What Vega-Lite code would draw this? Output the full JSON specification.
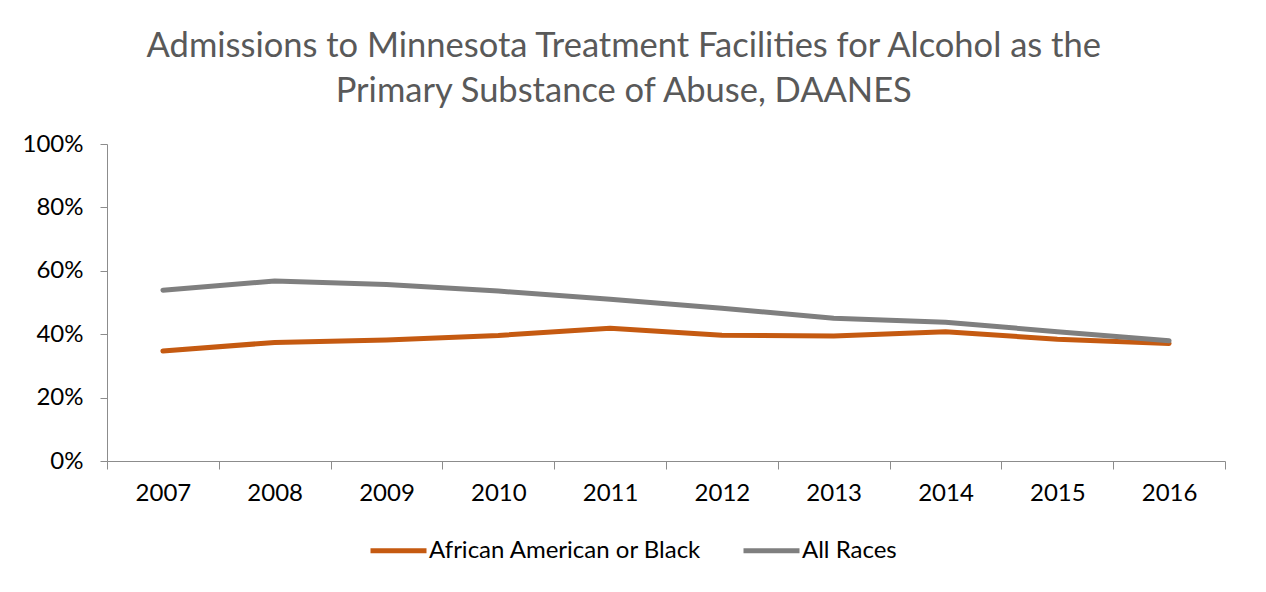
{
  "$schema": "https://vega.github.io/schema/vega-lite/v6.json",
  "autosize": "none",
  "width": 1118,
  "height": 317,
  "padding": {"left": 107, "top": 144, "right": 41, "bottom": 131},
  "background": "white",
  "title": {
    "text": ["Admissions to Minnesota Treatment Facilities for Alcohol as the", "Primary Substance of Abuse, DAANES"],
    "anchor": "middle",
    "frame": "bounds",
    "font": "Lato",
    "fontSize": 34.5,
    "fontWeight": "normal",
    "color": "#595959",
    "lineHeight": 45,
    "offset": 23
  },
  "config": {
    "view": {"stroke": null},
    "font": "Lato"
  },
  "data": {
    "values": [
      {"year": "2007", "series": "African American or Black", "value": 0.347},
      {"year": "2008", "series": "African American or Black", "value": 0.374},
      {"year": "2009", "series": "African American or Black", "value": 0.382},
      {"year": "2010", "series": "African American or Black", "value": 0.396},
      {"year": "2011", "series": "African American or Black", "value": 0.419},
      {"year": "2012", "series": "African American or Black", "value": 0.397},
      {"year": "2013", "series": "African American or Black", "value": 0.394},
      {"year": "2014", "series": "African American or Black", "value": 0.408},
      {"year": "2015", "series": "African American or Black", "value": 0.384},
      {"year": "2016", "series": "African American or Black", "value": 0.371},
      {"year": "2007", "series": "All Races", "value": 0.539},
      {"year": "2008", "series": "All Races", "value": 0.568},
      {"year": "2009", "series": "All Races", "value": 0.557},
      {"year": "2010", "series": "All Races", "value": 0.536},
      {"year": "2011", "series": "All Races", "value": 0.510},
      {"year": "2012", "series": "All Races", "value": 0.482},
      {"year": "2013", "series": "All Races", "value": 0.450},
      {"year": "2014", "series": "All Races", "value": 0.438},
      {"year": "2015", "series": "All Races", "value": 0.408},
      {"year": "2016", "series": "All Races", "value": 0.379}
    ]
  },
  "mark": {"type": "line", "strokeWidth": 5, "strokeCap": "round", "strokeJoin": "round"},
  "encoding": {
    "x": {
      "field": "year",
      "type": "ordinal",
      "scale": {"type": "band", "paddingInner": 0, "paddingOuter": 0},
      "axis": {
        "title": null,
        "labelAngle": 0,
        "tickBand": "extent",
        "tickSize": 8,
        "tickColor": "#8c8c8c",
        "domainColor": "#8c8c8c",
        "labelFont": "Lato",
        "labelFontSize": 24,
        "labelColor": "#000000",
        "labelPadding": 12,
        "grid": false
      }
    },
    "y": {
      "field": "value",
      "type": "quantitative",
      "scale": {"domain": [0, 1], "nice": false},
      "axis": {
        "title": null,
        "format": ".0%",
        "values": [0, 0.2, 0.4, 0.6, 0.8, 1],
        "tickSize": 7,
        "tickColor": "#8c8c8c",
        "domainColor": "#8c8c8c",
        "labelFont": "Lato",
        "labelFontSize": 24,
        "labelColor": "#000000",
        "labelPadding": 17,
        "grid": false
      }
    },
    "color": {
      "field": "series",
      "type": "nominal",
      "scale": {"domain": ["African American or Black", "All Races"], "range": ["#C55A11", "#7F7F7F"]},
      "legend": {
        "title": null,
        "orient": "none",
        "direction": "horizontal",
        "legendX": 261,
        "legendY": 376,
        "symbolType": "stroke",
        "symbolSize": 3136,
        "symbolStrokeWidth": 5,
        "labelFont": "Lato",
        "labelFontSize": 24,
        "labelColor": "#000000",
        "labelOffset": 0,
        "labelLimit": 0,
        "columnPadding": 31
      }
    }
  }
}
